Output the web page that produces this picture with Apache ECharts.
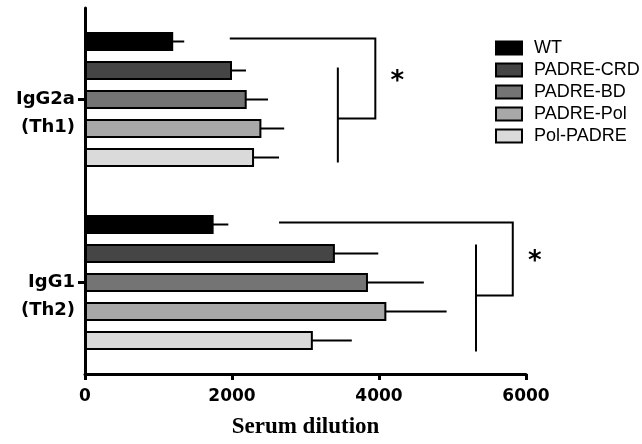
<!DOCTYPE html>
<html>
<head>
<meta charset="utf-8">
<script src="https://cdn.jsdelivr.net/npm/echarts@6/dist/echarts.min.js"></script>
<style>
  html, body { margin: 0; padding: 0; background: #fff; }
  #chart { width: 642px; height: 444px; }
</style>
</head>
<body>
<div id="chart"></div>
<script>
// groups on the y axis (top to bottom)
const groups = ['IgG2a\n(Th1)', 'IgG1\n(Th2)'];
const seriesNames = ['WT', 'PADRE-CRD', 'PADRE-BD', 'PADRE-Pol', 'Pol-PADRE'];

// mean titre per group [IgG2a, IgG1]
const wt        = [1200, 1750];
const padreCrd  = [2000, 3400];
const padreBd   = [2200, 3850];
const padrePol  = [2400, 4100];
const polPadre  = [2300, 3100];

// upper error (SD) per group
const wtErr       = [150, 200];
const padreCrdErr = [190, 590];
const padreBdErr  = [290, 760];
const padrePolErr = [310, 820];
const polPadreErr = [340, 530];

const xTicks = [0, 2000, 4000, 6000];

// significance brackets: [group, outer line start, outer line end, inner line]
const brackets = [
  [0, 1970, 3950, 3440],
  [1, 2640, 5820, 5320]
];

const means = [wt, padreCrd, padreBd, padrePol, polPadre];
const errs = [wtErr, padreCrdErr, padreBdErr, padrePolErr, polPadreErr];
const fills = ['#000000', '#454545', '#747474', '#a8a8a8', '#dadada'];

const BAR_W = 19;
const PITCH = 29;
// vertical offsets (px from group centre) of bracket parts
const bracketLayout = [
  { top: -61, mid: 19, v0: -32, v1: 63, star: -17 },
  { top: -60, mid: 13, v0: -38, v1: 69, star: -20 }
];

const chart = echarts.init(document.getElementById('chart'));

const barSeries = seriesNames.map((name, i) => ({
  name: name,
  type: 'bar',
  barWidth: BAR_W,
  barGap: ((PITCH - BAR_W) / BAR_W * 100) + '%',
  itemStyle: { color: fills[i], borderColor: '#000', borderWidth: 2 },
  data: means[i],
  z: 3
}));

const errSeries = seriesNames.map((name, i) => ({
  name: name + ' err',
  type: 'custom',
  silent: true,
  z: 2,
  encode: { x: [1, 2], y: 0 },
  data: means[i].map((m, g) => [g, m, m + errs[i][g]]),
  renderItem: (params, api) => {
    const g = api.value(0);
    const p0 = api.coord([api.value(1), g]);
    const p1 = api.coord([api.value(2), g]);
    const y = p0[1] + (i - 2) * PITCH;
    return {
      type: 'line',
      shape: { x1: p0[0] - 4, y1: y, x2: p1[0], y2: y },
      style: { stroke: '#000', lineWidth: 2 }
    };
  }
}));

const bracketSeries = {
  name: 'brackets',
  type: 'custom',
  silent: true,
  clip: false,
  encode: { x: [1, 2, 3], y: 0 },
  data: brackets,
  renderItem: (params, api) => {
    const g = api.value(0);
    const L = bracketLayout[g];
    const cy = api.coord([0, g])[1];
    const xa = api.coord([api.value(1), g])[0];
    const xb = api.coord([api.value(2), g])[0];
    const xc = api.coord([api.value(3), g])[0];
    const st = { stroke: '#000', lineWidth: 2, fill: 'none' };
    return {
      type: 'group',
      children: [
        { type: 'polyline', shape: { points: [[xa, cy + L.top], [xb, cy + L.top], [xb, cy + L.mid], [xc, cy + L.mid]] }, style: st },
        { type: 'line', shape: { x1: xc, y1: cy + L.v0, x2: xc, y2: cy + L.v1 }, style: st },
        { type: 'text', style: { text: '*', x: xb + 22, y: cy + L.star, align: 'center', verticalAlign: 'middle',
          font: 'bold 26px "DejaVu Sans"', fill: '#000' } }
      ]
    };
  }
};

chart.setOption({
  animation: false,
  grid: { left: 85, right: 116, top: 8, bottom: 67, containLabel: false },
  legend: {
    orient: 'vertical',
    left: 495,
    top: 39,
    padding: 0,
    itemWidth: 26,
    itemHeight: 13,
    itemGap: 4,
    icon: 'rect',
    selectedMode: false,
    data: seriesNames,
    textStyle: { fontFamily: 'Liberation Sans', fontSize: 18, lineHeight: 18, color: '#000', padding: [0, 0, 0, 7] }
  },
  xAxis: {
    type: 'value',
    min: xTicks[0],
    max: xTicks[xTicks.length - 1],
    interval: xTicks[1] - xTicks[0],
    name: 'Serum dilution',
    nameLocation: 'middle',
    nameGap: 42,
    nameTextStyle: { fontFamily: 'Liberation Serif', fontWeight: 'bold', fontSize: 23, color: '#000' },
    axisLine: { show: true, lineStyle: { color: '#000', width: 3 } },
    axisTick: { show: true, length: 6, lineStyle: { color: '#000', width: 3 } },
    axisLabel: {
      margin: 14, fontFamily: 'DejaVu Sans', fontWeight: 'bold', fontSize: 17, color: '#000',
      formatter: v => String(v)
    },
    splitLine: { show: false }
  },
  yAxis: {
    type: 'category',
    inverse: true,
    data: groups,
    axisLine: { show: true, lineStyle: { color: '#000', width: 3 } },
    axisTick: { show: true, alignWithLabel: true, length: 7, lineStyle: { color: '#000', width: 3 } },
    axisLabel: {
      margin: 10,
      fontFamily: 'DejaVu Sans', fontWeight: 'bold', fontSize: 18, lineHeight: 28, color: '#000',
      align: 'right',
      // leading blank line keeps the first line of the label on the tick
      formatter: v => '\n' + v
    }
  },
  series: [...barSeries, ...errSeries, bracketSeries]
});

window.addEventListener('resize', () => {
  chart.resize();
});
</script>
</body>
</html>
